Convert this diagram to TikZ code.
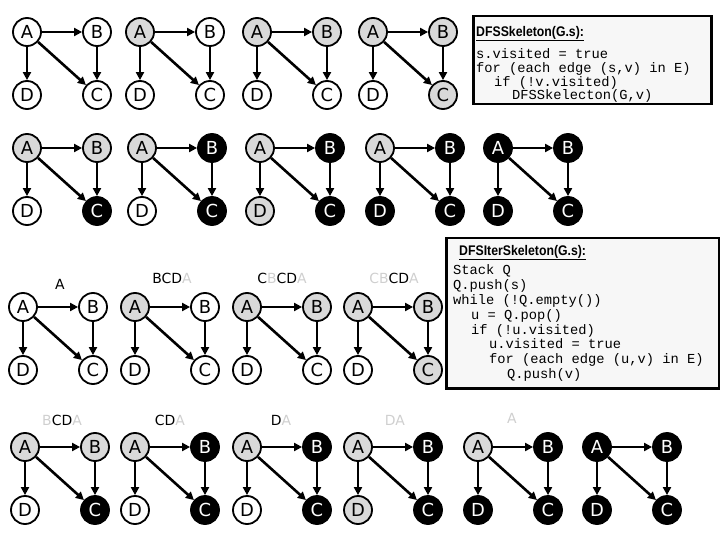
\documentclass[tikz,border=0pt]{standalone}
\usepackage{fontspec}
\setmainfont{DejaVu Sans}
\setmonofont{Liberation Mono}
\newfontfamily\titlefont[FakeStretch=0.88]{Liberation Sans}
\usetikzlibrary{arrows.meta}
\newcommand{\poptxt}[1]{\textcolor{gray!38}{#1}}

\begin{document}
\begin{tikzpicture}[x=1bp, y=-1bp,
	vtx/.style={circle, draw, line width=1.8bp, minimum size=28bp, inner sep=0pt, font=\fontsize{18}{18}\selectfont},
	wv/.style={vtx, fill=white},
	gv/.style={vtx, fill=gray!30},
	kv/.style={vtx, fill=black, text=white},
	dirlink/.style={line width=2.6bp, -{Triangle[length=8bp, width=8bp]}},
	stacklbl/.style={font=\fontsize{14}{14}\selectfont, inner sep=0pt},
	codebox/.style={draw, line width=2.5bp, fill=gray!6, inner sep=0pt},
	codetext/.style={align=left, inner sep=0pt, anchor=north west}]
	\useasboundingbox (0,0) rectangle (720,540);

	% one small graph per step: number/x/y/fill of A,B,C,D
	\foreach \i/\x/\y/\fa/\fb/\fc/\fd in {
		1/27/32/wv/wv/wv/wv, 2/140/32/gv/wv/wv/wv, 3/257/32/gv/gv/wv/wv, 4/373/32/gv/gv/gv/wv,
		5/27/148/gv/gv/kv/wv, 6/142/148/gv/kv/kv/wv, 7/260/148/gv/kv/kv/gv, 8/380/148/gv/kv/kv/kv, 9/498/148/kv/kv/kv/kv,
		10/23/307/wv/wv/wv/wv, 11/135/307/gv/wv/wv/wv, 12/247/307/gv/gv/wv/wv, 13/358/307/gv/gv/gv/wv,
		14/25/447/gv/gv/kv/wv, 15/135/447/gv/kv/kv/wv, 16/247/447/gv/kv/kv/wv, 17/358/447/gv/kv/kv/gv,
		18/478/447/gv/kv/kv/kv, 19/597/447/kv/kv/kv/kv}
	{
		\node[\fa] (A\i) at (\x, \y) {A};
		\node[\fb] (B\i) at (\x+70, \y) {B};
		\node[\fc] (C\i) at (\x+70, \y+63) {C};
		\node[\fd] (D\i) at (\x, \y+63) {D};
		\draw[dirlink] (A\i) -- (B\i);
		\draw[dirlink] (A\i) -- (D\i);
		\draw[dirlink] (A\i) -- (C\i);
		\draw[dirlink] (B\i) -- (C\i);
	}

	% stack contents
	\node[stacklbl] (stack10) at (60, 284) {A};
	\node[stacklbl] (stack11) at (172, 278) {BCD\poptxt{A}};
	\node[stacklbl] (stack12) at (282, 278) {C\poptxt{B}CD\poptxt{A}};
	\node[stacklbl] (stack13) at (394, 278) {\poptxt{CB}CD\poptxt{A}};
	\node[stacklbl] (stack14) at (62, 420) {\poptxt{B}CD\poptxt{A}};
	\node[stacklbl] (stack15) at (170, 420) {CD\poptxt{A}};
	\node[stacklbl] (stack16) at (281, 420) {D\poptxt{A}};
	\node[stacklbl] (stack17) at (395, 420) {\poptxt{DA}};
	\node[stacklbl] (stack18) at (512, 418) {\poptxt{A}};

	% recursive version
	\node[codebox, anchor=north west, minimum width=238bp, minimum height=88bp] (recbox) at (472, 15) {};
	\node[codetext, font=\ttfamily\fontsize{13.8}{14}\selectfont] (reccode) at (476, 26)
	{{\titlefont\bfseries\fontsize{14}{14}\selectfont\underline{DFSSkeleton(G.s):}}\\[6bp]
		s.visited = true\\
		for (each edge (s,v) in E)\\
		\hspace*{18bp}if (!v.visited)\\
		\hspace*{36bp}DFSSkelecton(G,v)};

	% iterative version
	\node[codebox, anchor=north west, minimum width=273bp, minimum height=150bp] (iterbox) at (445, 237) {};
	\node[codetext, font=\ttfamily\fontsize{13.8}{15}\selectfont] (itercode) at (453, 245)
	{\hspace*{6bp}{\titlefont\bfseries\fontsize{14}{15}\selectfont\underline{DFSIterSkeleton(G.s):}}\\[4bp]
		Stack Q\\
		Q.push(s)\\
		while (!Q.empty())\\
		\hspace*{18bp}u = Q.pop()\\
		\hspace*{18bp}if (!u.visited)\\
		\hspace*{36bp}u.visited = true\\
		\hspace*{36bp}for (each edge (u,v) in E)\\
		\hspace*{54bp}Q.push(v)};

\end{tikzpicture}
\end{document}
